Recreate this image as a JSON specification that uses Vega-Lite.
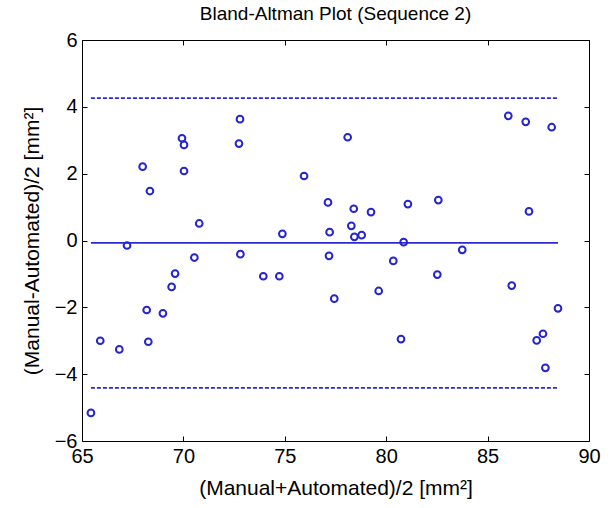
{
  "$schema": "https://vega.github.io/schema/vega-lite/v6.json",
  "width": 507,
  "height": 401,
  "autosize": {"type": "none"},
  "padding": {"left": 82, "top": 40, "right": 21, "bottom": 67},
  "background": "white",
  "title": {"text": "Bland-Altman Plot (Sequence 2)", "font": "Liberation Sans", "fontSize": 19, "fontWeight": "normal", "color": "black", "offset": 6},
  "config": {
    "view": {"stroke": "black", "strokeWidth": 1},
    "axis": {"labelFont": "Liberation Sans", "labelFontSize": 20, "labelColor": "black", "labelFlush": false, "titleFont": "Liberation Sans", "titleFontSize": 21, "titleFontWeight": "normal", "titleColor": "black", "grid": false, "domain": false, "tickColor": "black", "tickSize": -5, "tickWidth": 1}
  },
  "datasets": {
    "pts": [
      {"avg": 65.44, "diff": -5.16}, {"avg": 65.90, "diff": -3.0}, {"avg": 66.84, "diff": -3.26}, {"avg": 67.22, "diff": -0.15},
      {"avg": 67.99, "diff": 2.21}, {"avg": 68.19, "diff": -2.08}, {"avg": 68.27, "diff": -3.03}, {"avg": 68.35, "diff": 1.48},
      {"avg": 68.99, "diff": -2.18}, {"avg": 69.42, "diff": -1.39}, {"avg": 69.59, "diff": -0.99}, {"avg": 69.93, "diff": 3.06},
      {"avg": 70.03, "diff": 2.86}, {"avg": 70.03, "diff": 2.08}, {"avg": 70.54, "diff": -0.51}, {"avg": 70.78, "diff": 0.51},
      {"avg": 72.79, "diff": 3.63}, {"avg": 72.74, "diff": 2.90}, {"avg": 72.81, "diff": -0.41}, {"avg": 73.94, "diff": -1.07},
      {"avg": 74.73, "diff": -1.07}, {"avg": 74.88, "diff": 0.20}, {"avg": 75.95, "diff": 1.93}, {"avg": 77.13, "diff": 1.14},
      {"avg": 77.21, "diff": 0.25}, {"avg": 77.18, "diff": -0.46}, {"avg": 77.44, "diff": -1.74}, {"avg": 78.10, "diff": 3.09},
      {"avg": 78.28, "diff": 0.44}, {"avg": 78.40, "diff": 0.95}, {"avg": 78.43, "diff": 0.11}, {"avg": 78.79, "diff": 0.16},
      {"avg": 79.25, "diff": 0.85}, {"avg": 79.63, "diff": -1.51}, {"avg": 80.35, "diff": -0.61}, {"avg": 80.73, "diff": -2.95},
      {"avg": 80.86, "diff": -0.05}, {"avg": 81.07, "diff": 1.09}, {"avg": 82.57, "diff": 1.21}, {"avg": 82.52, "diff": -1.02},
      {"avg": 83.75, "diff": -0.28}, {"avg": 86.02, "diff": 3.73}, {"avg": 86.19, "diff": -1.35}, {"avg": 86.88, "diff": 3.55},
      {"avg": 87.04, "diff": 0.87}, {"avg": 87.42, "diff": -2.99}, {"avg": 87.73, "diff": -2.79}, {"avg": 87.85, "diff": -3.81},
      {"avg": 88.16, "diff": 3.39}, {"avg": 88.47, "diff": -2.03}
    ],
    "lines": [
      {"x": 65.44, "x2": 88.47, "y": -0.07, "kind": "mean"},
      {"x": 65.44, "x2": 88.47, "y": 4.26, "kind": "limit"},
      {"x": 65.44, "x2": 88.47, "y": -4.41, "kind": "limit"}
    ]
  },
  "resolve": {"axis": {"x": "independent", "y": "independent"}},
  "layer": [
    {
      "data": {"name": "lines"},
      "transform": [{"filter": "datum.kind === 'mean'"}],
      "mark": {"type": "rule", "color": "#2a2ad4", "strokeWidth": 1.8},
      "encoding": {
        "x": {"field": "x", "type": "quantitative", "scale": {"domain": [65, 90], "nice": false, "zero": false, "padding": 0},
              "axis": {"orient": "bottom", "values": [65, 70, 75, 80, 85, 90], "labelPadding": 10, "title": "(Manual+Automated)/2 [mm²]", "titlePadding": 11}},
        "x2": {"field": "x2"},
        "y": {"field": "y", "type": "quantitative", "scale": {"domain": [-6, 6], "nice": false, "zero": false, "padding": 0},
              "axis": {"orient": "left", "values": [-6, -4, -2, 0, 2, 4, 6], "labelPadding": 10, "title": "(Manual-Automated)/2 [mm²]", "titlePadding": 12}}
      }
    },
    {
      "data": {"name": "lines"},
      "transform": [{"filter": "datum.kind === 'limit'"}],
      "mark": {"type": "rule", "color": "#2a2ad4", "strokeWidth": 1.8, "strokeDash": [4, 2]},
      "encoding": {
        "x": {"field": "x", "type": "quantitative",
              "axis": {"orient": "top", "values": [65, 70, 75, 80, 85, 90], "labels": false, "title": null}},
        "x2": {"field": "x2"},
        "y": {"field": "y", "type": "quantitative",
              "axis": {"orient": "right", "values": [-6, -4, -2, 0, 2, 4, 6], "labels": false, "title": null}}
      }
    },
    {
      "data": {"name": "pts"},
      "mark": {"type": "point", "shape": "circle", "filled": false, "color": "#2424d0", "opacity": 1, "size": 45, "strokeWidth": 2},
      "encoding": {
        "x": {"field": "avg", "type": "quantitative", "axis": null},
        "y": {"field": "diff", "type": "quantitative", "axis": null}
      }
    }
  ]
}
